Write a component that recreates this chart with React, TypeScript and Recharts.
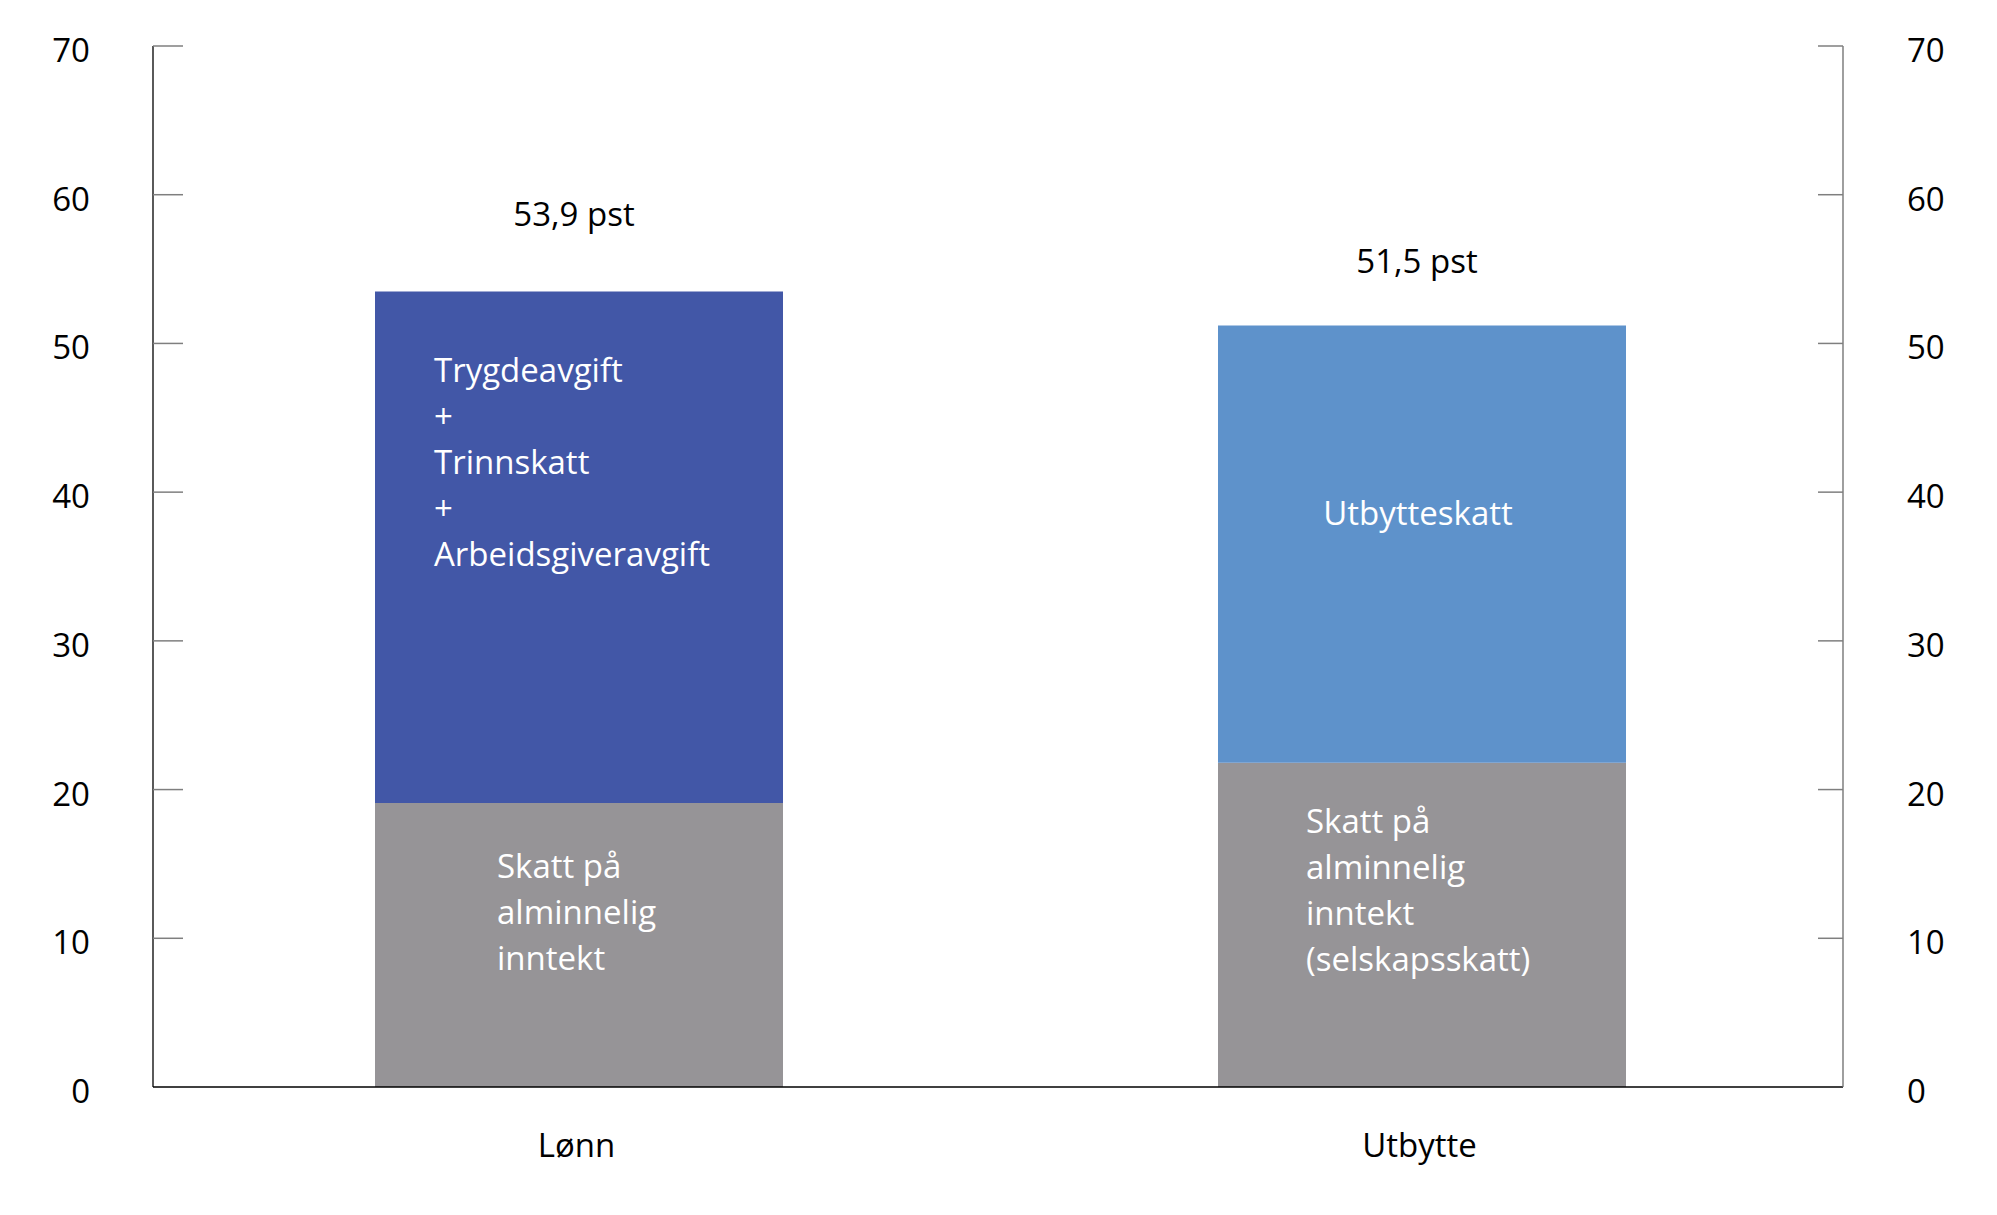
import { ComposedChart, Bar, Line, XAxis, YAxis, LabelList, Cell } from "recharts";

const categories = ["Lønn", "Utbytte"];
const ordinaryTax = [19.1, 21.8];
const extraTax = [34.4, 29.4];
const totalLabels = ["53,9 pst", "51,5 pst"];
const ordinaryLabels = [
  ["Skatt på", "alminnelig", "inntekt"],
  ["Skatt på", "alminnelig", "inntekt", "(selskapsskatt)"],
];
const extraLabels = [
  ["Trygdeavgift", "+", "Trinnskatt", "+", "Arbeidsgiveravgift"],
  ["Utbytteskatt"],
];
const yTicks = [0, 10, 20, 30, 40, 50, 60, 70];

const data = categories.map((name, i) => ({
  name,
  ordinary: ordinaryTax[i],
  extra: extraTax[i],
}));

const FONT = "'Open Sans', 'Noto Sans', sans-serif";
const FONT_SIZE = 33;
const LINE_HEIGHT = 46;
const GREY = "#969497";
const EXTRA_COLORS = ["#4257a7", "#5e92cb"];

// text block placement inside each segment: dx from bar left (null = centred), dy = first baseline below segment top
const ordinaryPos = [{ dx: 122, dy: 75 }, { dx: 88, dy: 70 }];
const extraPos = [{ dx: 59, dy: 91 }, { dx: null, dy: 199 }];
const totalPos = [{ dx: -5, dy: -65 }, { dx: -5, dy: -53 }];

const makeSegmentLabel = (lines: string[][], pos: { dx: number | null; dy: number }[]) => (props: any) => {
  const { x, y, width, index } = props;
  const p = pos[index];
  const centred = p.dx === null;
  const tx = centred ? x + width / 2 - 4 : x + p.dx;
  return (
    <g>
      {lines[index].map((line, j) => (
        <text
          key={j}
          x={tx}
          y={y + p.dy + j * LINE_HEIGHT}
          textAnchor={centred ? "middle" : "start"}
          fill="#ffffff"
          fontSize={FONT_SIZE}
          fontFamily={FONT}
        >
          {line}
        </text>
      ))}
    </g>
  );
};

const renderTotal = (props: any) => {
  const { x, y, width, index } = props;
  const p = totalPos[index];
  return (
    <text x={x + width / 2 + p.dx} y={y + p.dy} textAnchor="middle" fill="#000" fontSize={FONT_SIZE} fontFamily={FONT}>
      {totalLabels[index]}
    </text>
  );
};

const LeftTick = ({ x, y, payload }: any) => (
  <g>
    {payload.value !== 0 && <line x1={x} x2={x + 30} y1={y} y2={y} stroke="#7f7f7f" strokeWidth={1.5} />}
    <text x={x - 63} y={y + 16} textAnchor="end" fill="#000" fontSize={FONT_SIZE} fontFamily={FONT}>
      {payload.value}
    </text>
  </g>
);

const RightTick = ({ x, y, payload }: any) => (
  <g>
    {payload.value !== 0 && <line x1={x - 25} x2={x} y1={y} y2={y} stroke="#7f7f7f" strokeWidth={1.5} />}
    <text x={x + 64} y={y + 16} textAnchor="start" fill="#000" fontSize={FONT_SIZE} fontFamily={FONT}>
      {payload.value}
    </text>
  </g>
);

const CategoryTick = ({ x, y, payload }: any) => (
  <text x={x - 2} y={y + 70} textAnchor="middle" fill="#000" fontSize={FONT_SIZE} fontFamily={FONT}>
    {payload.value}
  </text>
);

export default function App() {
  return (
    <div style={{ position: "absolute", left: 0, top: 0, width: 1997, height: 1215, background: "#fff" }}>
      <ComposedChart width={1997} height={1215} data={data} margin={{ top: 46, right: 0, bottom: 0, left: 0 }}>
        <XAxis
          dataKey="name"
          height={128}
          padding={{ left: 4, right: 0 }}
          axisLine={{ stroke: "#000", strokeWidth: 1.3 }}
          tickLine={false}
          tickSize={0}
          tickMargin={0}
          tick={<CategoryTick />}
        />
        <YAxis
          yAxisId="left"
          width={153}
          domain={[0, 70]}
          ticks={yTicks}
          interval={0}
          axisLine={{ stroke: "#000", strokeWidth: 1.3 }}
          tickLine={false}
          tickSize={0}
          tickMargin={0}
          tick={<LeftTick />}
        />
        <YAxis
          yAxisId="right"
          orientation="right"
          width={154}
          domain={[0, 70]}
          ticks={yTicks}
          interval={0}
          allowDataOverflow
          axisLine={{ stroke: "#6b6b6b", strokeWidth: 1.3 }}
          tickLine={false}
          tickSize={0}
          tickMargin={0}
          tick={<RightTick />}
        />
        <Bar yAxisId="left" dataKey="ordinary" stackId="a" fill={GREY} barSize={408} isAnimationActive={false}>
          <LabelList dataKey="ordinary" content={makeSegmentLabel(ordinaryLabels, ordinaryPos)} />
        </Bar>
        <Bar yAxisId="left" dataKey="extra" stackId="a" barSize={408} isAnimationActive={false}>
          {data.map((_, i) => (
            <Cell key={i} fill={EXTRA_COLORS[i]} />
          ))}
          <LabelList dataKey="extra" content={makeSegmentLabel(extraLabels, extraPos)} />
          <LabelList dataKey="extra" content={renderTotal} />
        </Bar>
        {/* invisible series so the right-hand mirror axis gets its ticks */}
        <Line
          yAxisId="right"
          dataKey="ordinary"
          stroke="none"
          dot={false}
          activeDot={false}
          legendType="none"
          isAnimationActive={false}
        />
      </ComposedChart>
    </div>
  );
}
